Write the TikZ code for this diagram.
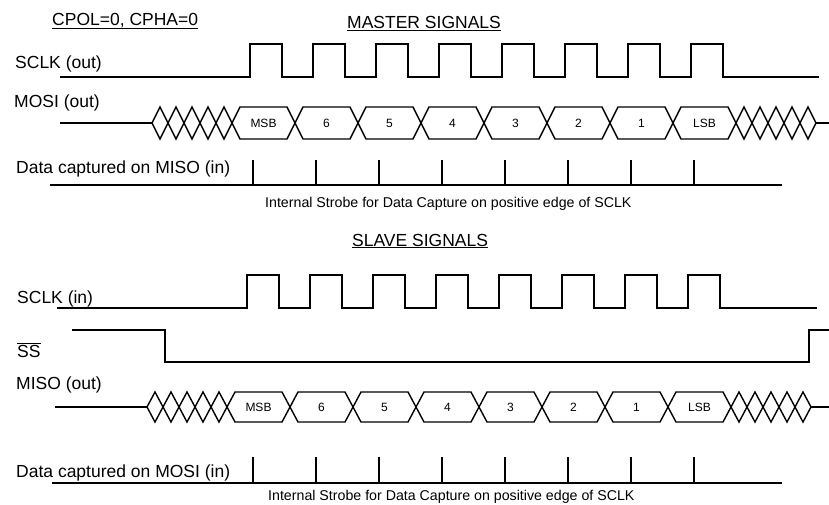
\documentclass[tikz,border=0pt]{standalone}
\usepackage{fontspec}
\setmainfont{Liberation Sans}
\usetikzlibrary{arrows}

\begin{document}
\begin{tikzpicture}[x=1pt,y=-1pt,
	lbl/.style={anchor=base west,inner sep=0pt,font=\fontsize{17.5}{20}\selectfont},
	note/.style={anchor=base west,inner sep=0pt,font=\fontsize{14.2}{16}\selectfont},
	bit/.style={inner sep=0pt,font=\fontsize{12}{14}\selectfont},
	sig/.style={line width=1.4pt}]
	\useasboundingbox (0,0) rectangle (829,504);

	% titles
	\node[lbl] (mode) at (52,25) {\underline{CPOL=0, CPHA=0}};
	\node[lbl] (master) at (347,28.5) {\underline{MASTER SIGNALS}};
	\node[lbl] (slave) at (352,246) {\underline{SLAVE SIGNALS}};

	% master side
	\node[lbl] (msclk) at (15,68) {SCLK (out)};
	\draw[sig] (60,77) -- (250,77) -- (250,44) -- (282,44) -- (282,77)
		-- (313,77) -- (313,44) -- (345,44) -- (345,77)
		-- (376,77) -- (376,44) -- (408,44) -- (408,77)
		-- (439,77) -- (439,44) -- (471,44) -- (471,77)
		-- (502,77) -- (502,44) -- (534,44) -- (534,77)
		-- (565,77) -- (565,44) -- (597,44) -- (597,77)
		-- (628,77) -- (628,44) -- (660,44) -- (660,77)
		-- (691,77) -- (691,44) -- (723,44) -- (723,77) -- (819,77);

	\node[lbl] (mosi) at (14,107) {MOSI (out)};
	\draw[sig] (60,123) -- (152,123);
	\draw[sig] (152,123) -- (160,107) -- (176,139) -- (192,107) -- (208,139) -- (224,107) -- (240,139)
		-- (287,139) -- (303,107) -- (350,107) -- (366,139) -- (413,139) -- (429,107)
		-- (476,107) -- (492,139) -- (539,139) -- (555,107) -- (602,107) -- (618,139)
		-- (665,139) -- (681,107) -- (728,107) -- (744,139) -- (760,107) -- (776,139)
		-- (792,107) -- (808,139) -- (816,123);
	\draw[sig] (152,123) -- (160,139) -- (176,107) -- (192,139) -- (208,107) -- (224,139) -- (240,107)
		-- (287,107) -- (303,139) -- (350,139) -- (366,107) -- (413,107) -- (429,139)
		-- (476,139) -- (492,107) -- (539,107) -- (555,139) -- (602,139) -- (618,107)
		-- (665,107) -- (681,139) -- (728,139) -- (744,107) -- (760,139) -- (776,107)
		-- (792,139) -- (808,107) -- (816,123);
	\draw[sig] (816,123) -- (829,123);
	\node[bit] (mb7) at (263.5,123) {MSB};
	\node[bit] (mb6) at (326.5,123) {6};
	\node[bit] (mb5) at (389.5,123) {5};
	\node[bit] (mb4) at (452.5,123) {4};
	\node[bit] (mb3) at (515.5,123) {3};
	\node[bit] (mb2) at (578.5,123) {2};
	\node[bit] (mb1) at (641.5,123) {1};
	\node[bit] (mb0) at (704.5,123) {LSB};

	\node[lbl] (mcap) at (16,173) {Data captured on MISO (in)};
	\draw[sig] (50,185) -- (782,185);
	\draw[sig] (253,160) -- (253,185) (316,160) -- (316,185) (379,160) -- (379,185)
		(442,160) -- (442,185) (505,160) -- (505,185) (568,160) -- (568,185)
		(631,160) -- (631,185) (694,160) -- (694,185);
	\node[note] (mstrobe) at (265,207) {Internal Strobe for Data Capture on positive edge of SCLK};

	% slave side
	\node[lbl] (ssclk) at (17,303) {SCLK (in)};
	\draw[sig] (57,308) -- (247,308) -- (247,275) -- (279,275) -- (279,308)
		-- (310,308) -- (310,275) -- (342,275) -- (342,308)
		-- (373,308) -- (373,275) -- (405,275) -- (405,308)
		-- (436,308) -- (436,275) -- (468,275) -- (468,308)
		-- (499,308) -- (499,275) -- (531,275) -- (531,308)
		-- (562,308) -- (562,275) -- (594,275) -- (594,308)
		-- (625,308) -- (625,275) -- (657,275) -- (657,308)
		-- (688,308) -- (688,275) -- (720,275) -- (720,308) -- (817,308);

	\node[lbl] (ss) at (17,357) {$\overline{\mbox{SS}}$};
	\draw[sig] (72,330) -- (165,330) -- (165,362) -- (809,362) -- (809,330) -- (829,330);

	\node[lbl] (miso) at (16,389) {MISO (out)};
	\draw[sig] (55,407) -- (147,407);
	\draw[sig] (147,407) -- (155,392) -- (171,422) -- (187,392) -- (203,422) -- (219,392) -- (235,422)
		-- (282,422) -- (298,392) -- (345,392) -- (361,422) -- (408,422) -- (424,392)
		-- (471,392) -- (487,422) -- (534,422) -- (550,392) -- (597,392) -- (613,422)
		-- (660,422) -- (676,392) -- (723,392) -- (739,422) -- (755,392) -- (771,422)
		-- (787,392) -- (803,422) -- (811,407);
	\draw[sig] (147,407) -- (155,422) -- (171,392) -- (187,422) -- (203,392) -- (219,422) -- (235,392)
		-- (282,392) -- (298,422) -- (345,422) -- (361,392) -- (408,392) -- (424,422)
		-- (471,422) -- (487,392) -- (534,392) -- (550,422) -- (597,422) -- (613,392)
		-- (660,392) -- (676,422) -- (723,422) -- (739,392) -- (755,422) -- (771,392)
		-- (787,422) -- (803,392) -- (811,407);
	\draw[sig] (811,407) -- (829,407);
	\node[bit] (sb7) at (258.5,407) {MSB};
	\node[bit] (sb6) at (321.5,407) {6};
	\node[bit] (sb5) at (384.5,407) {5};
	\node[bit] (sb4) at (447.5,407) {4};
	\node[bit] (sb3) at (510.5,407) {3};
	\node[bit] (sb2) at (573.5,407) {2};
	\node[bit] (sb1) at (636.5,407) {1};
	\node[bit] (sb0) at (699.5,407) {LSB};

	\node[lbl] (scap) at (16,477) {Data captured on MOSI (in)};
	\draw[sig] (52,483) -- (782,483);
	\draw[sig] (253,457) -- (253,483) (316,457) -- (316,483) (379,457) -- (379,483)
		(442,457) -- (442,483) (505,457) -- (505,483) (568,457) -- (568,483)
		(631,457) -- (631,483) (694,457) -- (694,483);
	\node[note] (sstrobe) at (268,500) {Internal Strobe for Data Capture on positive edge of SCLK};
\end{tikzpicture}
\end{document}
